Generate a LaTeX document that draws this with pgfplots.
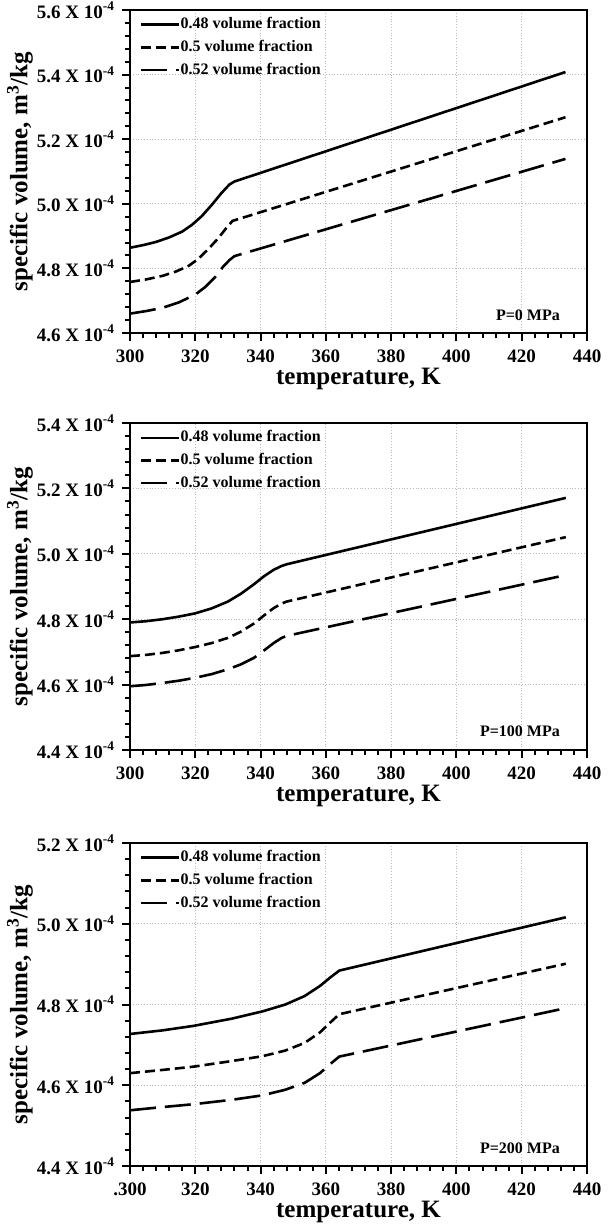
\documentclass[border=0pt]{standalone}
\usepackage{fontspec}
\setmainfont{Liberation Serif}
\usepackage{pgfplots}
\pgfplotsset{compat=1.18}

\pgfplotsset{
  svpanel/.style={
    scale only axis,
    width=228.5pt,
    anchor=north west,
    xmin=300, xmax=440,
    xtick={300,320,...,440},
    minor x tick num=4,
    minor y tick num=4,
    tick align=outside,
    tick pos=left,
    major tick length=4pt,
    minor tick length=2.5pt,
    every tick/.style={black, line width=1pt},
    axis line style={line width=1.3pt},
    grid=major,
    grid style={densely dotted, gray!55, line width=0.6pt},
    tick label style={font=\bfseries\fontsize{9.5}{10}\selectfont},
    xticklabel style={yshift=-1pt},
    label style={font=\bfseries\fontsize{12.5}{14}\selectfont},
    xlabel={temperature, K},
    ylabel={specific volume, m\textsuperscript{3}/kg},
    xlabel style={at={(axis description cs:0.5,0)}, anchor=center, yshift=-23pt},
    ylabel style={at={(axis description cs:-0.2407,0.5)}, anchor=center, rotate=0},
    legend cell align=left,
    legend style={draw=none, fill=none, at={(0.02,0.99)}, anchor=north west,
      font=\bfseries\fontsize{8}{9}\selectfont, row sep=0.2pt,
      inner xsep=0pt, inner ysep=0pt,
      nodes={inner xsep=0.3pt},
      /tikz/every odd column/.append style={column sep=0pt},
      /tikz/every even column/.append style={column sep=0pt}},
    legend image code/.code={\draw[#1] (0pt,0pt) -- (19pt,0pt);},
  },
  sA/.style={black, line width=1.3pt},
  sB/.style={black, line width=1.3pt, dash pattern=on 5pt off 2.5pt},
  sC/.style={black, line width=1.3pt, dash pattern=on 13pt off 4.5pt},
}

\begin{document}
\begin{tikzpicture}

% ---- P = 0 MPa
\begin{axis}[svpanel, at={(65pt,-5pt)}, height=161.5pt,
  ymin=4.6, ymax=5.6, ytick={4.6,4.8,5.0,5.2,5.4,5.6},
  yticklabels={4.6 X 10\textsuperscript{-4},4.8 X 10\textsuperscript{-4},5.0 X 10\textsuperscript{-4},5.2 X 10\textsuperscript{-4},5.4 X 10\textsuperscript{-4},5.6 X 10\textsuperscript{-4}},
  xticklabels={300,320,340,360,380,400,420,440}]
\addplot[sA] coordinates {(300,4.864)(304,4.872)(308,4.882)(312,4.896)(316,4.914)(319,4.935)(322,4.962)(325,4.996)(328,5.033)(330.5,5.060)(332,5.069)(433.4,5.408)};
\addlegendentry{0.48 volume fraction}
\addplot[sB] coordinates {(300,4.758)(305,4.766)(310,4.777)(314,4.790)(318,4.808)(321,4.830)(324,4.860)(327,4.893)(329.5,4.925)(331.4,4.947)(433.4,5.268)};
\addlegendentry{0.5 volume fraction}
\addplot[sC] coordinates {(300,4.660)(305,4.668)(310,4.678)(315,4.695)(320,4.719)(323,4.742)(326,4.772)(328.5,4.805)(330.5,4.826)(332,4.838)(433.4,5.139)};
\addlegendentry{0.52 volume fraction}
\node[anchor=east, font=\bfseries\fontsize{8}{9}\selectfont] at (axis description cs:0.956,0.056) {P=0 MPa};
\end{axis}

% ---- P = 100 MPa
\begin{axis}[svpanel, at={(65pt,-211.5pt)}, height=163.5pt,
  ymin=4.4, ymax=5.4, ytick={4.4,4.6,4.8,5.0,5.2,5.4},
  yticklabels={4.4 X 10\textsuperscript{-4},4.6 X 10\textsuperscript{-4},4.8 X 10\textsuperscript{-4},5.0 X 10\textsuperscript{-4},5.2 X 10\textsuperscript{-4},5.4 X 10\textsuperscript{-4}},
  xticklabels={300,320,340,360,380,400,420,440}]
\addplot[sA] coordinates {(300,4.790)(305,4.794)(310,4.800)(315,4.808)(320,4.818)(325,4.833)(330,4.854)(334,4.878)(338,4.907)(341,4.931)(344,4.951)(346.5,4.963)(348,4.968)(433.5,5.171)};
\addlegendentry{0.48 volume fraction}
\addplot[sB] coordinates {(300,4.687)(305,4.691)(310,4.697)(315,4.705)(320,4.715)(325,4.727)(330,4.743)(334,4.762)(338,4.787)(341,4.811)(344,4.834)(346.5,4.848)(348,4.854)(433.5,5.051)};
\addlegendentry{0.5 volume fraction}
\addplot[sC] coordinates {(300,4.595)(305,4.599)(310,4.605)(315,4.612)(320,4.621)(325,4.632)(330,4.647)(334,4.662)(338,4.682)(341,4.704)(344,4.727)(346.5,4.743)(348,4.749)(433.5,4.935)};
\addlegendentry{0.52 volume fraction}
\node[anchor=east, font=\bfseries\fontsize{8}{9}\selectfont] at (axis description cs:0.956,0.056) {P=100 MPa};
\end{axis}

% ---- P = 200 MPa
\begin{axis}[svpanel, at={(65pt,-421.5pt)}, height=161.5pt,
  ymin=4.4, ymax=5.2, ytick={4.4,4.6,4.8,5.0,5.2},
  yticklabels={4.4 X 10\textsuperscript{-4},4.6 X 10\textsuperscript{-4},4.8 X 10\textsuperscript{-4},5.0 X 10\textsuperscript{-4},5.2 X 10\textsuperscript{-4}},
  xticklabels={.300,320,340,360,380,400,420,440}]
\addplot[sA] coordinates {(300,4.727)(310,4.736)(319.4,4.747)(331.2,4.765)(340.6,4.783)(347.6,4.800)(353.5,4.821)(358.2,4.846)(361.2,4.866)(364.1,4.884)(433.5,5.016)};
\addlegendentry{0.48 volume fraction}
\addplot[sB] coordinates {(300,4.630)(310,4.638)(319.4,4.646)(331.2,4.660)(340.6,4.672)(347.6,4.686)(353.5,4.705)(358.2,4.731)(361.7,4.758)(364.1,4.776)(433.5,4.901)};
\addlegendentry{0.5 volume fraction}
\addplot[sC] coordinates {(300,4.538)(310,4.546)(319.4,4.553)(331.2,4.564)(340.6,4.575)(347.6,4.589)(353.5,4.606)(358.2,4.630)(361.7,4.655)(364.1,4.671)(433.5,4.791)};
\addlegendentry{0.52 volume fraction}
\node[anchor=east, font=\bfseries\fontsize{8}{9}\selectfont] at (axis description cs:0.956,0.056) {P=200 MPa};
\end{axis}

\pgfresetboundingbox
\path[use as bounding box] (0pt,0pt) rectangle (305.5pt,-613pt);
\end{tikzpicture}
\end{document}
